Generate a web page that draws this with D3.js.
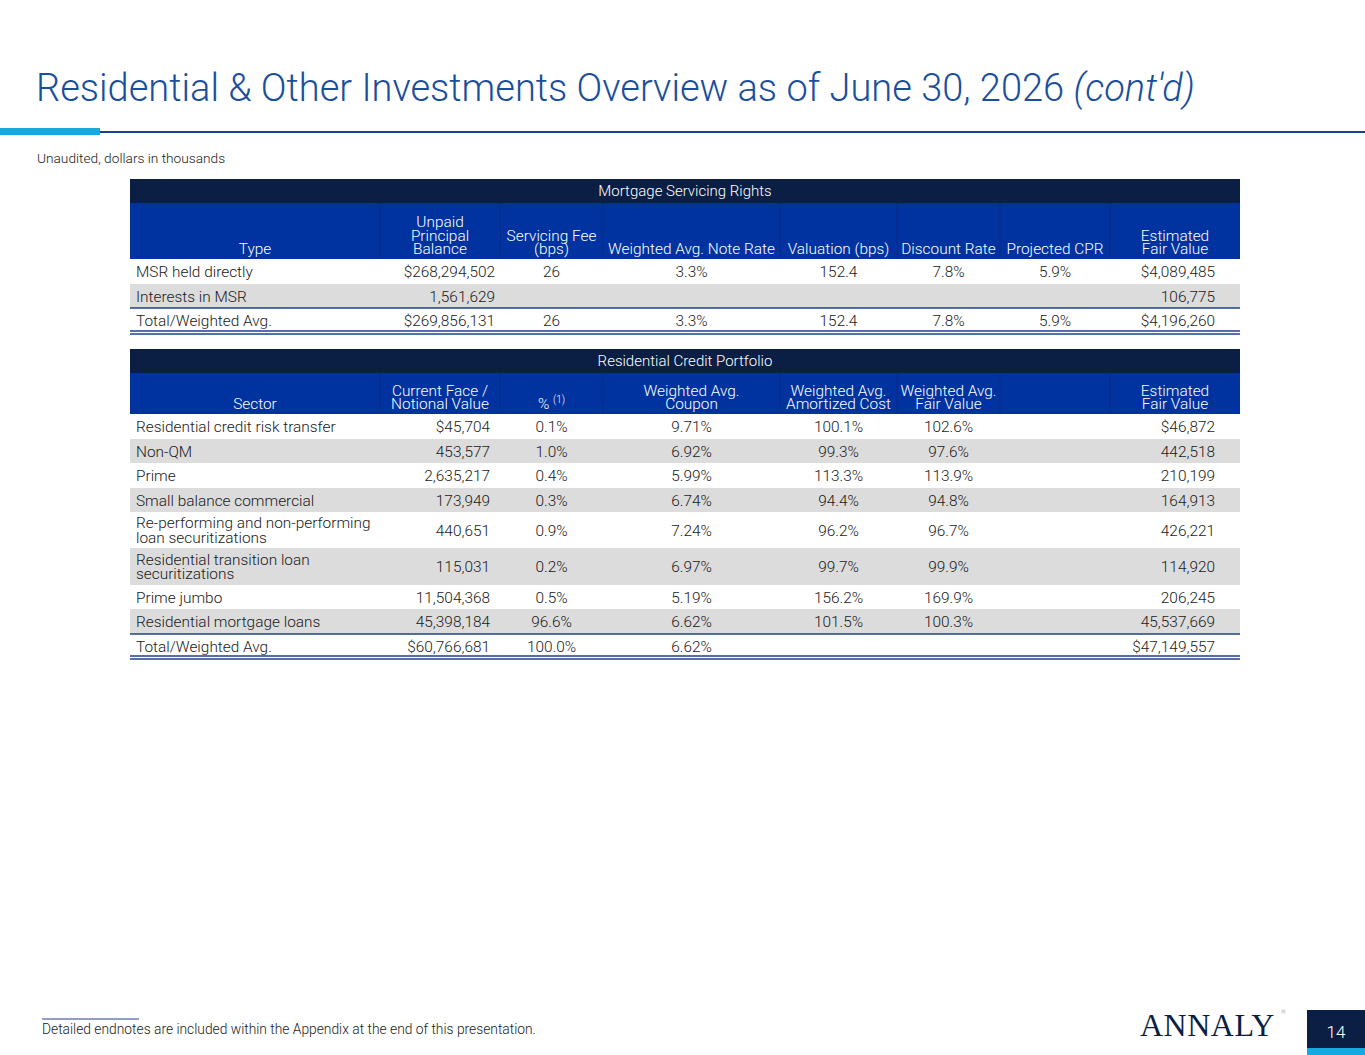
<!DOCTYPE html>
<html><head><meta charset="utf-8">
<script src="https://cdn.jsdelivr.net/npm/d3@7"></script>
<style>
body{margin:0;background:#fff;}
text{font-family:Roboto,"Noto Sans",sans-serif;font-weight:300;}
</style></head><body>
<svg id="slide" width="1365" height="1055"></svg>
<script>
// MSR table data
var msrHeaders = [["Type"], ["Unpaid", "Principal", "Balance"], ["Servicing Fee", "(bps)"], ["Weighted Avg. Note Rate"], ["Valuation (bps)"], ["Discount Rate"], ["Projected CPR"], ["Estimated", "Fair Value"]];
var msrTypes = ["MSR held directly", "Interests in MSR", "Total/Weighted Avg."];
var msrUpb = ["$268,294,502", "1,561,629", "$269,856,131"];
var msrFee = ["26", "", "26"];
var msrNoteRate = ["3.3%", "", "3.3%"];
var msrValuation = ["152.4", "", "152.4"];
var msrDiscount = ["7.8%", "", "7.8%"];
var msrCpr = ["5.9%", "", "5.9%"];
var msrFairValue = ["$4,089,485", "106,775", "$4,196,260"];

// Residential credit portfolio data
var rcpHeaders = [["Sector"], ["Current Face /", "Notional Value"], ["% (1)"], ["Weighted Avg.", "Coupon"], ["Weighted Avg.", "Amortized Cost"], ["Weighted Avg.", "Fair Value"], [""], ["Estimated", "Fair Value"]];
var rcpSectors = [["Residential credit risk transfer"], ["Non-QM"], ["Prime"], ["Small balance commercial"], ["Re-performing and non-performing", "loan securitizations"], ["Residential transition loan", "securitizations"], ["Prime jumbo"], ["Residential mortgage loans"], ["Total/Weighted Avg."]];
var rcpFace = ["$45,704", "453,577", "2,635,217", "173,949", "440,651", "115,031", "11,504,368", "45,398,184", "$60,766,681"];
var rcpPct = ["0.1%", "1.0%", "0.4%", "0.3%", "0.9%", "0.2%", "0.5%", "96.6%", "100.0%"];
var rcpCoupon = ["9.71%", "6.92%", "5.99%", "6.74%", "7.24%", "6.97%", "5.19%", "6.62%", "6.62%"];
var rcpAmort = ["100.1%", "99.3%", "113.3%", "94.4%", "96.2%", "99.7%", "156.2%", "101.5%", ""];
var rcpFairPct = ["102.6%", "97.6%", "113.9%", "94.8%", "96.7%", "99.9%", "169.9%", "100.3%", ""];
var rcpFairValue = ["$46,872", "442,518", "210,199", "164,913", "426,221", "114,920", "206,245", "45,537,669", "$47,149,557"];

var svg = d3.select("#slide");
var navy = "#0b1f45", blue = "#0033a0", line = "#1e3f8f", gray = "#dcdcdc", ink = "#1a1a1a";
var fs = 15.4, lh = 14.5;

// column geometry (shared by both tables)
var colEdges = [130, 380, 500, 603, 780, 897, 1000, 1110, 1240];
function colAnchor(i, first) {
  if (i === 0) return {x: colEdges[0] + 6, a: "start"};
  if (i === 1) return {x: first, a: "end"};
  if (i === 7) return {x: colEdges[8] - 25, a: "end"};
  return {x: (colEdges[i] + colEdges[i + 1]) / 2, a: "middle"};
}

// title
svg.append("text").attr("x", 36).attr("y", 101).attr("font-size", 38).attr("fill", "#1b4f9c")
  .text("Residential & Other Investments Overview as of June 30, 2026 ")
  .append("tspan").attr("font-style", "italic").text("(cont'd)");
svg.append("rect").attr("x", 0).attr("y", 128).attr("width", 100).attr("height", 7).attr("fill", "#15a9e1");
svg.append("rect").attr("x", 100).attr("y", 131).attr("width", 1265).attr("height", 2).attr("fill", "#1e3f8f");
svg.append("text").attr("x", 37).attr("y", 163).attr("font-size", 13.7).attr("fill", ink).text("Unaudited, dollars in thousands");

function drawTable(top, title, headers, headerH, rows, rowHeights, stripe, firstRight) {
  var g = svg.append("g");
  g.append("rect").attr("x", 130).attr("y", top).attr("width", 1110).attr("height", 24).attr("fill", navy);
  g.append("text").attr("x", 685).attr("y", top + 17).attr("text-anchor", "middle").attr("font-size", 15).attr("fill", "#fff").text(title);
  var hy = top + 24;
  g.append("rect").attr("x", 130).attr("y", hy).attr("width", 1110).attr("height", headerH).attr("fill", blue);
  headers.forEach(function(lines, i) {
    if (i > 0) g.append("line").attr("x1", colEdges[i]).attr("x2", colEdges[i]).attr("y1", hy).attr("y2", hy + headerH).attr("stroke", "#0b2a86").attr("stroke-width", 1);
    var cx = (colEdges[i] + colEdges[i + 1]) / 2;
    lines.forEach(function(l, k) {
      var t = g.append("text").attr("x", cx).attr("y", hy + headerH - 5 - (lines.length - 1 - k) * 13.5)
        .attr("text-anchor", "middle").attr("font-size", fs).attr("fill", "#fff");
      if (l === "% (1)") { t.text("% "); t.append("tspan").attr("font-size", 10).attr("dy", -6).text("(1)"); }
      else t.text(l);
    });
  });
  var y = hy + headerH;
  rows.forEach(function(cells, r) {
    var h = rowHeights[r];
    if (stripe(r)) g.append("rect").attr("x", 130).attr("y", y).attr("width", 1110).attr("height", h).attr("fill", gray);
    cells.forEach(function(c, i) {
      var an = colAnchor(i, firstRight);
      var lines = Array.isArray(c) ? c : [c];
      lines.forEach(function(l, k) {
        g.append("text").attr("x", an.x).attr("y", y + h / 2 + 5.5 - (lines.length - 1) * lh / 2 + k * lh)
          .attr("text-anchor", an.a).attr("font-size", fs).attr("fill", ink).text(l);
      });
    });
    if (r === rows.length - 1) {
      g.append("line").attr("x1", 130).attr("x2", 1240).attr("y1", y).attr("y2", y).attr("stroke", line).attr("stroke-width", 1.5);
      g.append("line").attr("x1", 130).attr("x2", 1240).attr("y1", y + h - 2).attr("y2", y + h - 2).attr("stroke", line).attr("stroke-width", 1.5);
      g.append("line").attr("x1", 130).attr("x2", 1240).attr("y1", y + h + 1).attr("y2", y + h + 1).attr("stroke", line).attr("stroke-width", 1.5);
    }
    y += h;
  });
}

var msrRows = msrTypes.map(function(t, i) {
  return [t, msrUpb[i], msrFee[i], msrNoteRate[i], msrValuation[i], msrDiscount[i], msrCpr[i], msrFairValue[i]];
});
drawTable(179, "Mortgage Servicing Rights", msrHeaders, 56, msrRows, [25, 24, 25], function(r) { return r === 1; }, 495);

var rcpRows = rcpSectors.map(function(s, i) {
  return [s.length > 1 ? s : s[0], rcpFace[i], rcpPct[i], rcpCoupon[i], rcpAmort[i], rcpFairPct[i], "", rcpFairValue[i]];
});
drawTable(349, "Residential Credit Portfolio", rcpHeaders, 41, rcpRows, [25, 24, 25, 24, 36, 37, 24, 25, 24], function(r) { return r % 2 === 1 && r < 8; }, 490);

// footer
svg.append("line").attr("x1", 42).attr("x2", 139).attr("y1", 1019).attr("y2", 1019).attr("stroke", "#1e3f8f").attr("stroke-width", 1);
svg.append("text").attr("x", 42).attr("y", 1034).attr("font-size", 13.8).attr("fill", ink).text("Detailed endnotes are included within the Appendix at the end of this presentation.");
svg.append("text").attr("x", 1140).attr("y", 1036).attr("font-size", 32).attr("fill", navy)
  .attr("style", "font-family:'Liberation Serif','DejaVu Serif',serif;font-weight:400;letter-spacing:0.5px").text("ANNALY");
svg.append("text").attr("x", 1281).attr("y", 1014).attr("font-size", 6).attr("fill", "#888").text("®");
svg.append("rect").attr("x", 1307).attr("y", 1010).attr("width", 58).attr("height", 45).attr("fill", navy);
svg.append("rect").attr("x", 1307).attr("y", 1048).attr("width", 58).attr("height", 7).attr("fill", "#15a9e1");
svg.append("text").attr("x", 1336).attr("y", 1038).attr("text-anchor", "middle").attr("font-size", 17).attr("fill", "#fff").text("14");
</script>
</body></html>
